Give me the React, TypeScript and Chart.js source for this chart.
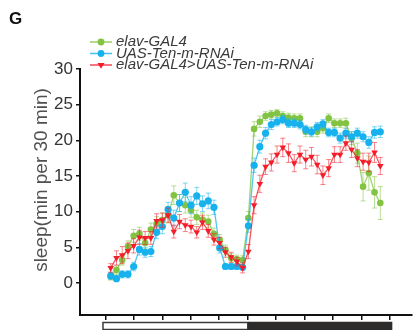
import React, { useEffect, useRef } from "react";
import { Chart, registerables } from "chart.js";

Chart.register(...registerables);

// 30-min bins over 24 h (index 0..47)
const bins: number[] = Array.from({ length: 48 }, (_, i) => i);

const seriesNames = ["elav-GAL4", "UAS-Ten-m-RNAi", "elav-GAL4>UAS-Ten-m-RNAi"];

const elavGal4 = [0.9, 1.8, 3.2, 5.1, 6.6, 6.9, 5.6, 7.5, 8.3, 8.8, 9.5, 12.3, 11.2, 10.9, 10.2, 9.2, 8.9, 8.6, 6.9, 6.0, 4.6, 3.5, 3.3, 3.2,
  9.1, 21.6, 22.6, 23.4, 23.6, 23.8, 23.4, 23.2, 23.1, 23.1, 21.2, 21.2, 21.2, 21.7, 23.1, 22.4, 22.4, 22.4, 20.3, 18.2, 13.5, 15.4, 12.7, 11.2];
const elavGal4Err = [0.5, 0.6, 0.7, 0.8, 0.9, 0.9, 0.8, 0.9, 1.0, 1.0, 1.1, 1.3, 1.2, 1.1, 1.0, 1.0, 0.9, 0.9, 0.8, 0.8, 0.7, 0.6, 0.6, 0.6,
  0.9, 1.0, 0.8, 0.6, 0.6, 0.5, 0.6, 0.6, 0.6, 0.6, 0.7, 0.7, 0.7, 0.7, 0.6, 0.6, 0.6, 0.7, 0.9, 1.4, 2.0, 2.4, 2.2, 2.3];

const uasRnai = [1.0, 0.6, 1.2, 1.2, 2.3, 4.7, 4.3, 4.4, 7.1, 7.9, 10.3, 9.1, 11.2, 12.7, 10.9, 12.2, 11.1, 11.5, 10.6, 4.9, 2.3, 2.3, 2.3, 2.2,
  8.0, 16.5, 19.1, 21.0, 22.2, 22.6, 22.9, 22.4, 22.4, 22.2, 21.5, 21.2, 21.9, 22.3, 21.1, 21.1, 20.3, 21.0, 20.5, 21.0, 20.5, 19.7, 21.1, 21.2];
const uasRnaiErr = [0.5, 0.4, 0.5, 0.5, 0.6, 0.8, 0.7, 0.7, 0.9, 1.0, 1.0, 1.1, 1.2, 1.3, 1.2, 1.2, 1.1, 1.1, 1.0, 0.7, 0.4, 0.4, 0.4, 0.4,
  0.9, 1.0, 0.9, 0.8, 0.7, 0.6, 0.6, 0.6, 0.6, 0.6, 0.6, 0.6, 0.6, 0.6, 0.6, 0.6, 0.7, 0.7, 0.7, 0.7, 0.7, 0.8, 0.8, 0.8];

const elavRnai = [2.1, 3.5, 3.9, 4.5, 5.2, 6.4, 6.3, 6.3, 8.7, 8.8, 9.5, 7.2, 8.6, 8.1, 7.9, 7.1, 8.5, 7.3, 6.1, 5.6, 4.3, 3.6, 3.0, 2.1,
  4.4, 10.9, 13.9, 16.3, 16.9, 18.0, 19.0, 18.2, 16.8, 18.0, 17.3, 17.7, 16.6, 15.1, 16.1, 18.0, 18.0, 19.6, 18.7, 17.5, 17.0, 16.9, 18.3, 16.4];
const elavRnaiErr = [0.6, 1.0, 1.2, 1.1, 1.0, 1.0, 0.9, 0.9, 1.0, 1.0, 1.0, 0.9, 1.0, 0.9, 0.9, 0.8, 1.0, 0.9, 0.8, 0.8, 0.7, 0.7, 0.6, 0.7,
  1.0, 1.2, 1.2, 1.1, 1.2, 1.2, 1.3, 1.3, 1.2, 1.2, 1.3, 1.3, 1.3, 1.3, 1.2, 1.1, 1.1, 1.0, 1.1, 1.2, 1.2, 1.3, 1.4, 1.2];

const yTickValues = [0, 5, 10, 15, 20, 25, 30];
const yTitle = "sleep(min per 30 min)";
const panelLabel = "G";

const GREEN = "#82c341";
const BLUE = "#17b2ee";
const RED = "#f41d2a";

const FONT = '"Liberation Sans", Arial, sans-serif';

const X_MIN = -5.357;
const X_MAX = 52.53;
const LIGHT_START = -1.35;
const LIGHT_END = 23.9;
const DARK_END = 49.1;

function rgba(hex: string, a: number) {
  const n = parseInt(hex.slice(1), 16);
  return `rgba(${(n >> 16) & 255},${(n >> 8) & 255},${n & 255},${a})`;
}

const errorsByDataset = [elavGal4Err, uasRnaiErr, elavRnaiErr];

const errorBarPlugin = {
  id: "errorBars",
  beforeDatasetDraw(chart: any, args: any) {
    const idx = args.index;
    const ds = chart.data.datasets[idx];
    const errs = errorsByDataset[idx];
    const ys = chart.scales.y;
    const ctx = chart.ctx;
    ctx.save();
    ctx.strokeStyle = rgba(ds.baseColor, 0.55);
    ctx.lineWidth = 1;
    args.meta.data.forEach((el: any, i: number) => {
      const v = ds.data[i].y;
      const top = ys.getPixelForValue(v + errs[i]);
      const bot = ys.getPixelForValue(v - errs[i]);
      const x = el.x;
      ctx.beginPath();
      ctx.moveTo(x, top);
      ctx.lineTo(x, bot);
      ctx.moveTo(x - 2.5, top);
      ctx.lineTo(x + 2.5, top);
      ctx.moveTo(x - 2.5, bot);
      ctx.lineTo(x + 2.5, bot);
      ctx.stroke();
    });
    ctx.restore();
  },
};

function drawMarker(ctx: CanvasRenderingContext2D, kind: string, x: number, y: number, r: number, color: string) {
  ctx.fillStyle = color;
  ctx.beginPath();
  if (kind === "tri") {
    ctx.moveTo(x - r, y - r * 0.6);
    ctx.lineTo(x + r, y - r * 0.6);
    ctx.lineTo(x, y + r * 1.1);
    ctx.closePath();
  } else {
    ctx.arc(x, y, r, 0, Math.PI * 2);
  }
  ctx.fill();
}

const decorPlugin = {
  id: "decor",
  afterDraw(chart: any) {
    const ctx = chart.ctx;
    const xs = chart.scales.x;
    ctx.save();
    // panel label
    ctx.fillStyle = "#111";
    ctx.font = `bold 17px ${FONT}`;
    ctx.textBaseline = "middle";
    ctx.textAlign = "left";
    ctx.fillText(panelLabel, 9, 19);

    // legend
    const colors = [GREEN, BLUE, RED];
    const kinds = ["circle", "circle", "tri"];
    const rows = [42, 53.5, 65];
    rows.forEach((y, i) => {
      ctx.strokeStyle = rgba(colors[i], 0.8);
      ctx.lineWidth = 1.5;
      ctx.beginPath();
      ctx.moveTo(90, y);
      ctx.lineTo(112, y);
      ctx.stroke();
      drawMarker(ctx, kinds[i], 101, y, kinds[i] === "tri" ? 3.5 : 3.4, colors[i]);
      ctx.fillStyle = "#3a3a3a";
      ctx.font = `italic 15px ${FONT}`;
      ctx.textAlign = "left";
      ctx.textBaseline = "middle";
      ctx.fillText(seriesNames[i], 116, y);
    });

    // y title
    ctx.save();
    ctx.translate(42, 180);
    ctx.rotate(-Math.PI / 2);
    ctx.fillStyle = "#505050";
    ctx.font = `19px ${FONT}`;
    ctx.textAlign = "center";
    ctx.textBaseline = "middle";
    ctx.fillText(yTitle, 0, 0);
    ctx.restore();

    // light / dark bar
    const x0 = xs.getPixelForValue(LIGHT_START);
    const x1 = xs.getPixelForValue(LIGHT_END);
    const x2 = xs.getPixelForValue(DARK_END);
    const y0 = 322.5;
    const h = 7;
    ctx.fillStyle = "#ffffff";
    ctx.fillRect(x0, y0, x1 - x0, h);
    ctx.strokeStyle = "#3a3a3a";
    ctx.lineWidth = 1.5;
    ctx.strokeRect(x0, y0, x1 - x0, h);
    ctx.fillStyle = "#2e2b2b";
    ctx.fillRect(x1, y0 - 0.75, x2 - x1, h + 1.5);
    ctx.restore();
  },
};

function makeDataset(label: string, values: number[], color: string, style: string, order: number, radius: number) {
  return {
    label,
    baseColor: color,
    data: bins.map((b, i) => ({ x: b, y: values[i] })),
    borderColor: rgba(color, 0.75),
    backgroundColor: color,
    borderWidth: 1.3,
    pointBackgroundColor: color,
    pointBorderColor: color,
    pointBorderWidth: 0,
    pointStyle: style,
    pointRotation: style === "triangle" ? 180 : 0,
    pointRadius: radius,
    tension: 0,
    order,
  };
}

export default function App() {
  const ref = useRef<HTMLCanvasElement | null>(null);
  useEffect(() => {
    if (!ref.current) return;
    const chart = new Chart(ref.current, {
      type: "line",
      data: {
        datasets: [
          makeDataset(seriesNames[0], elavGal4, GREEN, "circle", 2, 3.3),
          makeDataset(seriesNames[1], uasRnai, BLUE, "circle", 1, 3.6),
          makeDataset(seriesNames[2], elavRnai, RED, "triangle", 0, 3.8),
        ] as any,
      },
      options: {
        animation: false,
        responsive: false,
        devicePixelRatio: 1,
        layout: { padding: { top: 69, right: 1, bottom: 0, left: 0 } },
        plugins: { legend: { display: false }, tooltip: { enabled: false } },
        scales: {
          x: {
            type: "linear",
            min: X_MIN,
            max: X_MAX,
            grid: { drawOnChartArea: false, drawTicks: true, tickLength: 5, color: "#111", lineWidth: 1.5 },
            border: { display: true, color: "#111", width: 2 },
            ticks: { display: false },
            afterBuildTicks: (s: any) => {
              s.ticks = Array.from({ length: 11 }, (_, k) => ({ value: -0.92 + 4.96 * k }));
            },
            afterFit: (s: any) => {
              s.height = 15;
            },
          },
          y: {
            min: -4.5,
            max: 30,
            grid: { drawOnChartArea: false, drawTicks: true, tickLength: 4, color: "#111", lineWidth: 1.5 },
            border: { display: true, color: "#111", width: 2 },
            ticks: { font: { size: 17, family: FONT }, color: "#333", padding: 3 },
            afterBuildTicks: (s: any) => {
              s.ticks = yTickValues.map((v) => ({ value: v }));
            },
            afterFit: (s: any) => {
              s.width = 80;
            },
          },
        },
      } as any,
      plugins: [errorBarPlugin, decorPlugin],
    });
    return () => chart.destroy();
  }, []);
  return (
    <div style={{ position: "absolute", left: 0, top: 0, width: 416, height: 330, background: "#fff" }}>
      <canvas ref={ref} width={416} height={330} style={{ display: "block" }} />
    </div>
  );
}
